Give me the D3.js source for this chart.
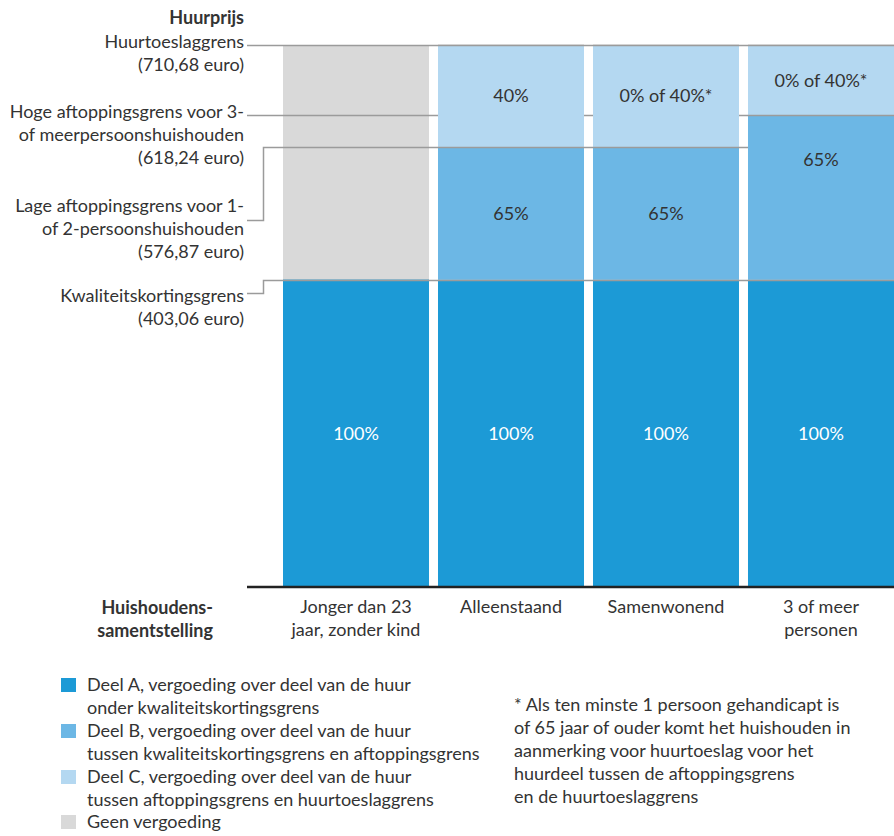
<!DOCTYPE html>
<html>
<head>
<meta charset="utf-8">
<script src="https://cdn.jsdelivr.net/npm/d3@7"></script>
<style>
  html, body { margin: 0; padding: 0; background: #fff; }
  svg { display: block; font-family: Lato, "Open Sans", sans-serif; }
</style>
</head>
<body>
<svg id="chart" width="894" height="836"></svg>
<script>
// ---- data ----
const categories = ["Jonger dan 23 jaar, zonder kind", "Alleenstaand", "Samenwonend", "3 of meer personen"];
const categoryLines = [["Jonger dan 23", "jaar, zonder kind"], ["Alleenstaand"], ["Samenwonend"], ["3 of meer", "personen"]];
const thresholdValues = [710.68, 618.24, 576.87, 403.06];
const thresholdLabels = [
  ["Huurtoeslaggrens", "(710,68 euro)"],
  ["Hoge aftoppingsgrens voor 3-", "of meerpersoonshuishouden", "(618,24 euro)"],
  ["Lage aftoppingsgrens voor 1-", "of 2-persoonshuishouden", "(576,87 euro)"],
  ["Kwaliteitskortingsgrens", "(403,06 euro)"]
];
// segment tops (euro); bottom of each segment is the top of the previous one
const deelATop = [403.06, 403.06, 403.06, 403.06];
const deelBTop = [null, 576.87, 576.87, 618.24];
const deelCTop = [null, 710.68, 710.68, 710.68];
const geenTop = [710.68, null, null, null];
const deelALabel = ["100%", "100%", "100%", "100%"];
const deelBLabel = [null, "65%", "65%", "65%"];
const deelCLabel = [null, "40%", "0% of 40%*", "0% of 40%*"];
const deelBLabelAt = [null, null, null, 560];   // euro level of label where not centred
const legendItems = [
  ["Deel A, vergoeding over deel van de huur", "onder kwaliteitskortingsgrens"],
  ["Deel B, vergoeding over deel van de huur", "tussen kwaliteitskortingsgrens en aftoppingsgrens"],
  ["Deel C, vergoeding over deel van de huur", "tussen aftoppingsgrens en huurtoeslaggrens"],
  ["Geen vergoeding"]
];
const footnoteLines = [
  "* Als ten minste 1 persoon gehandicapt is",
  "of 65 jaar of ouder komt het huishouden in",
  "aanmerking voor huurtoeslag voor het",
  "huurdeel tussen de aftoppingsgrens",
  "en de huurtoeslaggrens"
];

// ---- styles ----
const colA = "#1c9ad6", colB = "#6cb7e5", colC = "#b4d8f1", colGeen = "#d9d9d9";
const lineCol = "#9b9b9b", textCol = "#333333";
const FS = 18;

const svg = d3.select("#chart");
const y = d3.scaleLinear().domain([0, 710.68]).range([587, 45]);
const x = d3.scaleBand().domain(categories).range([283, 894]).paddingInner(0.058).paddingOuter(0);

// build segments
const segs = [];
categories.forEach((c, i) => {
  segs.push({cat: c, kind: "A", from: 0, to: deelATop[i], col: colA, label: deelALabel[i], txt: "#ffffff"});
  if (deelBTop[i] != null) segs.push({cat: c, kind: "B", from: deelATop[i], to: deelBTop[i], col: colB, label: deelBLabel[i], at: deelBLabelAt[i], txt: textCol});
  if (deelCTop[i] != null) segs.push({cat: c, kind: "C", from: deelBTop[i], to: deelCTop[i], col: colC, label: deelCLabel[i], txt: textCol});
  if (geenTop[i] != null) segs.push({cat: c, kind: "G", from: deelATop[i], to: geenTop[i], col: colGeen, label: null});
});

const gGrey = svg.append("g");
const gLines = svg.append("g");
const gBars = svg.append("g");
const gTops = svg.append("g");
const gText = svg.append("g");

// grey (no compensation) segments below the threshold lines
gGrey.selectAll("rect").data(segs.filter(d => d.kind === "G")).join("rect")
  .attr("x", d => x(d.cat)).attr("width", x.bandwidth())
  .attr("y", d => y(d.to)).attr("height", d => y(d.from) - y(d.to))
  .attr("fill", d => d.col);

// threshold lines + leaders
const labelX = 244;
const leaderStart = [247, 247, 247, 247];
const elbowX = 263;
const leaderTextY = [null, null, 220, 293]; // where elbow leaders begin
thresholdValues.forEach((v, i) => {
  const yy = Math.round(y(v)) + 0.5;
  if (leaderTextY[i] == null) {
    gLines.append("line").attr("x1", leaderStart[i]).attr("x2", 894).attr("y1", yy).attr("y2", yy)
      .attr("stroke", lineCol).attr("stroke-width", 1.5);
  } else {
    gLines.append("path")
      .attr("d", `M${leaderStart[i]},${leaderTextY[i] + 0.5}H${elbowX + 0.5}V${yy}H894`)
      .attr("fill", "none").attr("stroke", lineCol).attr("stroke-width", 1.5);
  }
});

// coloured segments
const colSegs = segs.filter(d => d.kind !== "G");
gBars.selectAll("rect").data(colSegs).join("rect")
  .attr("x", d => x(d.cat)).attr("width", x.bandwidth())
  .attr("y", d => y(d.to)).attr("height", d => y(d.from) - y(d.to))
  .attr("fill", d => d.col);

// top borders of segments
gTops.selectAll("line").data(colSegs).join("line")
  .attr("x1", d => x(d.cat)).attr("x2", d => x(d.cat) + x.bandwidth())
  .attr("y1", d => Math.round(y(d.to)) + 0.5).attr("y2", d => Math.round(y(d.to)) + 0.5)
  .attr("stroke", lineCol).attr("stroke-width", 1.5);

// segment labels
gText.selectAll("text.seg").data(colSegs.filter(d => d.label)).join("text")
  .attr("class", "seg")
  .attr("x", d => x(d.cat) + x.bandwidth() / 2)
  .attr("y", d => d.at != null ? y(d.at) : (y(d.from) + y(d.to)) / 2)
  .attr("dy", "0.35em")
  .attr("text-anchor", "middle")
  .attr("font-size", FS)
  .attr("fill", d => d.txt)
  .text(d => d.label);

// x axis baseline
svg.append("line").attr("x1", 247).attr("x2", 894).attr("y1", 587).attr("y2", 587)
  .attr("stroke", "#222").attr("stroke-width", 2.5);

// left labels
svg.append("text").attr("x", labelX).attr("y", 24).attr("text-anchor", "end")
  .attr("font-size", FS).attr("font-weight", "bold").attr("fill", textCol).text("Huurprijs");
const labelFirstBaseline = [48, 118, 212, 302];
thresholdLabels.forEach((lines, i) => {
  const t = svg.append("text").attr("x", labelX).attr("y", labelFirstBaseline[i])
    .attr("text-anchor", "end").attr("font-size", FS).attr("fill", textCol);
  lines.forEach((l, j) => t.append("tspan").attr("x", labelX).attr("dy", j === 0 ? 0 : 23).text(l));
});

// category labels
categories.forEach((c, i) => {
  const t = svg.append("text").attr("x", x(c) + x.bandwidth() / 2).attr("y", 613)
    .attr("text-anchor", "middle").attr("font-size", FS).attr("fill", textCol);
  categoryLines[i].forEach((l, j) => t.append("tspan").attr("x", x(c) + x.bandwidth() / 2).attr("dy", j === 0 ? 0 : 23).text(l));
});
const ax = svg.append("text").attr("x", 213).attr("y", 614).attr("text-anchor", "end")
  .attr("font-size", FS).attr("font-weight", "bold").attr("fill", textCol);
ax.append("tspan").attr("x", 213).attr("dy", 0).text("Huishoudens-");
ax.append("tspan").attr("x", 213).attr("dy", 23).text("samentstelling");

// legend
const legendColors = [colA, colB, colC, colGeen];
const legendY = [691, 737, 783, 828];
legendItems.forEach((lines, i) => {
  svg.append("rect").attr("x", 61).attr("y", legendY[i] - 13).attr("width", 15).attr("height", 14)
    .attr("fill", legendColors[i]);
  const t = svg.append("text").attr("x", 87).attr("y", legendY[i]).attr("font-size", FS).attr("fill", textCol);
  lines.forEach((l, j) => t.append("tspan").attr("x", 87).attr("dy", j === 0 ? 0 : 23).text(l));
});

// footnote
const fn = svg.append("text").attr("x", 514).attr("y", 711).attr("font-size", FS).attr("fill", textCol);
footnoteLines.forEach((l, j) => fn.append("tspan").attr("x", 514).attr("dy", j === 0 ? 0 : 23).text(l));
</script>
</body>
</html>
